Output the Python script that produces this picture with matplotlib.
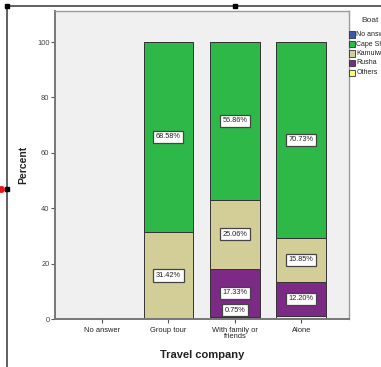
import matplotlib
matplotlib.use("Agg")
import matplotlib.pyplot as plt
from matplotlib.lines import Line2D
from matplotlib.patches import Rectangle
import numpy as np

plt.rcParams['font.family'] = ['Liberation Sans', 'DejaVu Sans']

# Travel company categories and boat shares (percent within each category)
categories = ["No answer", "Group tour", "With family or\nfriends", "Alone"]
boats = ["No answer", "Cape Shiretoko", "Kamuiwakka", "Rusha", "Others"]
colors = ["#3E58AC", "#2EB848", "#D3CE97", "#7C2A86", "#FBF873"]

no_answer = [0.0, 0.0, 0.0, 0.0]
cape = [0.0, 68.58, 56.86, 70.73]
kamui = [0.0, 31.42, 25.06, 15.85]
rusha = [0.0, 0.0, 17.33, 12.20]
others = [0.0, 0.0, 0.75, 1.22]

# which segment labels are printed (the 1.22% sliver on "Alone" carries none)
show_others_label = [False, False, True, False]

W, H = 381, 367
fig = plt.figure(figsize=(W / 100, H / 100), dpi=100)
fig.patch.set_facecolor("white")

ax = fig.add_axes([55 / W, (H - 319) / H, 294 / W, (319 - 11) / H])
ax.set_facecolor("#F0F0F0")

x = np.arange(len(categories))
series = [others, rusha, kamui, cape, no_answer]
series_colors = [colors[4], colors[3], colors[2], colors[1], colors[0]]
bottom = np.zeros(len(categories))
for vals, col in zip(series, series_colors):
    vals = np.array(vals)
    ax.bar(x, vals, width=0.75, bottom=bottom, color=col,
           edgecolor="#333333", linewidth=0.7, zorder=2)
    bottom = bottom + vals

label_box = dict(boxstyle="square,pad=0.35", fc="white", ec="#444444", lw=0.9)


def put_label(xi, base, val):
    y = max(base + val / 2, 3.2)
    ax.text(xi, y, f"{val:.2f}%", ha="center", va="center", fontsize=5.3,
            color="#222222", bbox=label_box, zorder=4)


for i in range(len(categories)):
    base = 0.0
    if others[i] > 0:
        if show_others_label[i]:
            put_label(i, base, others[i])
        base += others[i]
    for vals in (rusha, kamui, cape):
        if vals[i] > 0:
            put_label(i, base, vals[i])
            base += vals[i]

ax.set_xlim(-0.71, 3.72)
ax.set_ylim(0, 111.2)
ax.set_yticks([0, 20, 40, 60, 80, 100])
ax.set_xticks(x)
ax.set_xticklabels(categories, fontsize=5.4, color="#222222", linespacing=0.85)
ax.tick_params(axis="y", labelsize=5.4, labelcolor="#444444", length=3,
               width=0.8, color="#555555", pad=1)
ax.tick_params(axis="x", length=3, width=0.8, color="#555555", pad=2.5)

for side in ("left", "bottom"):
    ax.spines[side].set_color("#777777")
    ax.spines[side].set_linewidth(1.4)
for side in ("top", "right"):
    ax.spines[side].set_color("#9A9A9A")
    ax.spines[side].set_linewidth(1.0)

ax.set_ylabel("Percent", fontsize=7.5, fontweight="bold", labelpad=6,
              color="#222222")
ax.set_xlabel("Travel company", fontsize=8, fontweight="bold", labelpad=7,
              color="#222222")

# legend placed to the right of the plot
fig.text(361 / W, 1 - 20 / H, "Boat", fontsize=6, color="#333333",
         va="center", ha="left")
for k, (name, col) in enumerate(zip(boats, colors)):
    yc = 34.5 + k * 9.5
    fig.patches.append(Rectangle((349 / W, 1 - (yc + 3) / H), 6 / W, 6 / H,
                                 transform=fig.transFigure, fc=col,
                                 ec="#333333", lw=0.6))
    fig.text(356.5 / W, 1 - yc / H, name, fontsize=5, color="#222222",
             va="center", ha="left")

# selection frame around the chart
frame_kw = dict(transform=fig.transFigure, color="#444444", lw=1.2)
fig.add_artist(Line2D([7 / W, 1.0], [1 - 6 / H, 1 - 6 / H], **frame_kw))
fig.add_artist(Line2D([7 / W, 7 / W], [1 - 6 / H, 0.0], **frame_kw))
for hx, hy in [(7, 6), (235, 6), (7, 189)]:
    fig.add_artist(Line2D([hx / W], [1 - hy / H], transform=fig.transFigure,
                          marker="s", markersize=2.5, color="black", lw=0))
fig.add_artist(Line2D([1 / W], [1 - 189 / H], transform=fig.transFigure,
                      marker="o", markersize=4, color="#E8141B", lw=0))

fig.savefig("out.png", dpi=100)
